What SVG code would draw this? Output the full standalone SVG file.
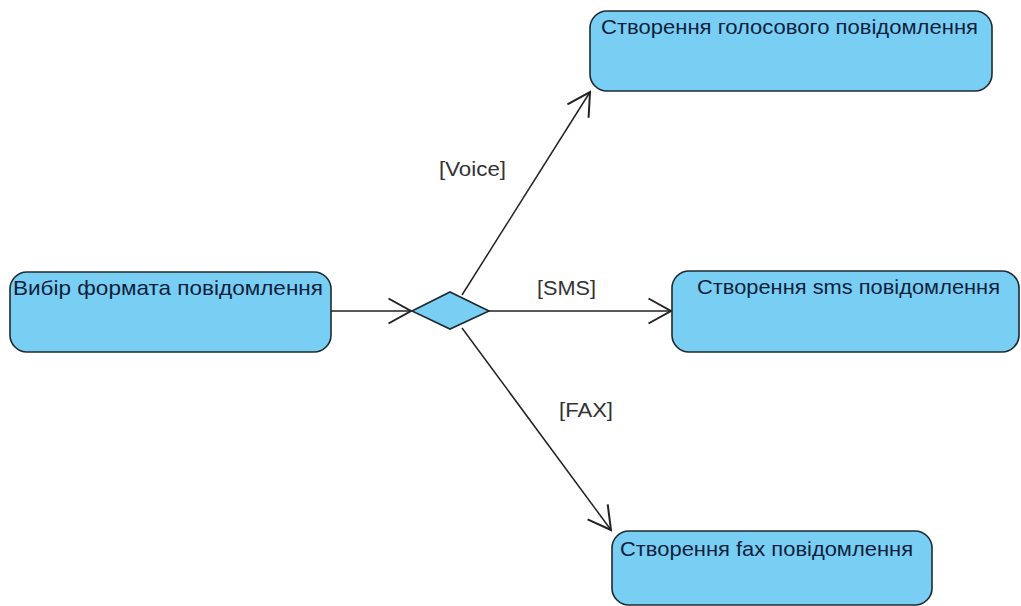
<svg xmlns="http://www.w3.org/2000/svg" width="1021" height="606" viewBox="0 0 1021 606">
<defs>
<style>
.node{fill:#79cef3;stroke:#1e2a30;stroke-width:1.6}
.nt{font-family:"Liberation Sans",Arial,sans-serif;font-size:21px;fill:#0d1f3c}
.lbl{font-family:"Liberation Sans",Arial,sans-serif;font-size:20px;fill:#333}
.edge{stroke:#222;stroke-width:1.5;fill:none}
</style>
<marker id="arr" markerUnits="userSpaceOnUse" markerWidth="30" markerHeight="30" refX="20" refY="12" orient="auto" viewBox="0 0 24 24">
<path d="M2,2 L20,12 L2,22" fill="none" stroke="#222" stroke-width="1.6"/>
</marker>
</defs>
<g id="connectors">
<line class="edge" x1="331" y1="311" x2="411" y2="311" marker-end="url(#arr)"/>
<line class="edge" x1="462" y1="295" x2="590" y2="92" marker-end="url(#arr)"/>
<line class="edge" x1="489" y1="311" x2="671" y2="311" marker-end="url(#arr)"/>
<line class="edge" x1="462" y1="328" x2="611" y2="530" marker-end="url(#arr)"/>
<text class="lbl" x="439" y="176" textLength="67" lengthAdjust="spacingAndGlyphs">[Voice]</text>
<text class="lbl" x="537" y="295" textLength="59" lengthAdjust="spacingAndGlyphs">[SMS]</text>
<text class="lbl" x="559" y="417" textLength="54" lengthAdjust="spacingAndGlyphs">[FAX]</text>
</g>
<g id="n-select">
<rect class="node" x="10" y="272" width="321" height="80" rx="17"/>
<text class="nt" x="13" y="295" textLength="310" lengthAdjust="spacingAndGlyphs">Вибір формата повідомлення</text>
</g>
<g id="decision">
<polygon class="node" points="412,311 450,292 489,311 450,329"/>
</g>
<g id="n-voice">
<rect class="node" x="590" y="11" width="402" height="80" rx="17"/>
<text class="nt" x="601" y="34" textLength="377" lengthAdjust="spacingAndGlyphs">Створення голосового повідомлення</text>
</g>
<g id="n-sms">
<rect class="node" x="672" y="271" width="347" height="81" rx="17"/>
<text class="nt" x="697" y="294" textLength="303" lengthAdjust="spacingAndGlyphs">Створення sms повідомлення</text>
</g>
<g id="n-fax">
<rect class="node" x="612" y="531" width="320" height="74" rx="17"/>
<text class="nt" x="620" y="556" textLength="293" lengthAdjust="spacingAndGlyphs">Створення fax повідомлення</text>
</g>
</svg>
